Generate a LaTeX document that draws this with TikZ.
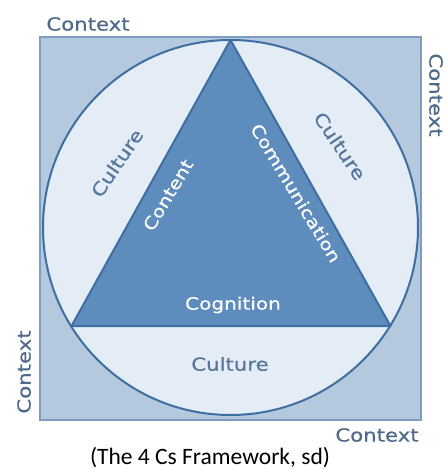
\documentclass[tikz,border=0pt]{standalone}
\usepackage{fontspec}
\setmainfont{DejaVu Sans}[FakeStretch=1.18, FakeBold=0.6]
\newfontfamily\capfont{Carlito}
\usepackage{tikz}
\usetikzlibrary{calc}
\definecolor{ctxbg}{HTML}{B4C9DE}
\definecolor{ctxline}{HTML}{7C9DC0}
\definecolor{culbg}{HTML}{E4ECF5}
\definecolor{corebg}{HTML}{5E8CBD}
\definecolor{edge}{HTML}{3F6FA2}
\definecolor{ctxtext}{HTML}{4F6B89}
\definecolor{cultext}{HTML}{56769C}
\tikzset{
  sqbox/.style={draw=ctxline, fill=ctxbg, line width=1.4pt},
  ring/.style={draw=edge, fill=culbg, line width=2pt},
  tri/.style={draw=edge, fill=corebg, line width=2pt, line join=round},
  ctx/.style={text=ctxtext, inner sep=0pt, font=\fontsize{18}{20}\selectfont},
  cul/.style={text=cultext, inner sep=0pt, font=\fontsize{18}{20}\selectfont},
  core/.style={text=white, inner sep=0pt, font=\fontsize{17}{19}\selectfont},
  captext/.style={text=black, inner sep=0pt, font=\capfont\fontsize{23.5}{26}\selectfont},
}

\begin{document}
\begin{tikzpicture}[x=1pt, y=-1pt]
  \useasboundingbox (0,0) rectangle (446,470);
  \coordinate (O) at (230.5,227.5);
  \coordinate (A) at (230.5,40);
  \coordinate (B) at (71.5,326);
  \coordinate (C) at (390.5,326);
  % square, circle, triangle
  \draw[sqbox] (40,37) rectangle (421,420);
  \draw[ring] (O) circle[radius=187.5];
  \draw[tri] (A) -- (B) -- (C) -- cycle;
  % the four context labels
  \node[ctx] (ctxTop) at (88,24) {Context};
  \node[ctx, rotate=-90] (ctxRight) at (436,95) {Context};
  \node[ctx, rotate=90] (ctxLeft) at (24,372) {Context};
  \node[ctx] (ctxBottom) at (377,435) {Context};
  % culture ring
  \node[cul, rotate=56] (culLeft) at (117,163) {Culture};
  \node[cul, rotate=-56] (culRight) at (340,146) {Culture};
  \node[cul] (culBottom) at (230,364) {Culture};
  % triangle sides
  \node[core, rotate=59] (content) at (168,195) {Content};
  \node[core, rotate=-59] (comm) at (296,193) {Communication};
  \node[core] (cogn) at (233,305) {Cognition};
  \node[captext] (caption) at (210,458) {(The 4 Cs Framework, sd)};
\end{tikzpicture}
\end{document}
